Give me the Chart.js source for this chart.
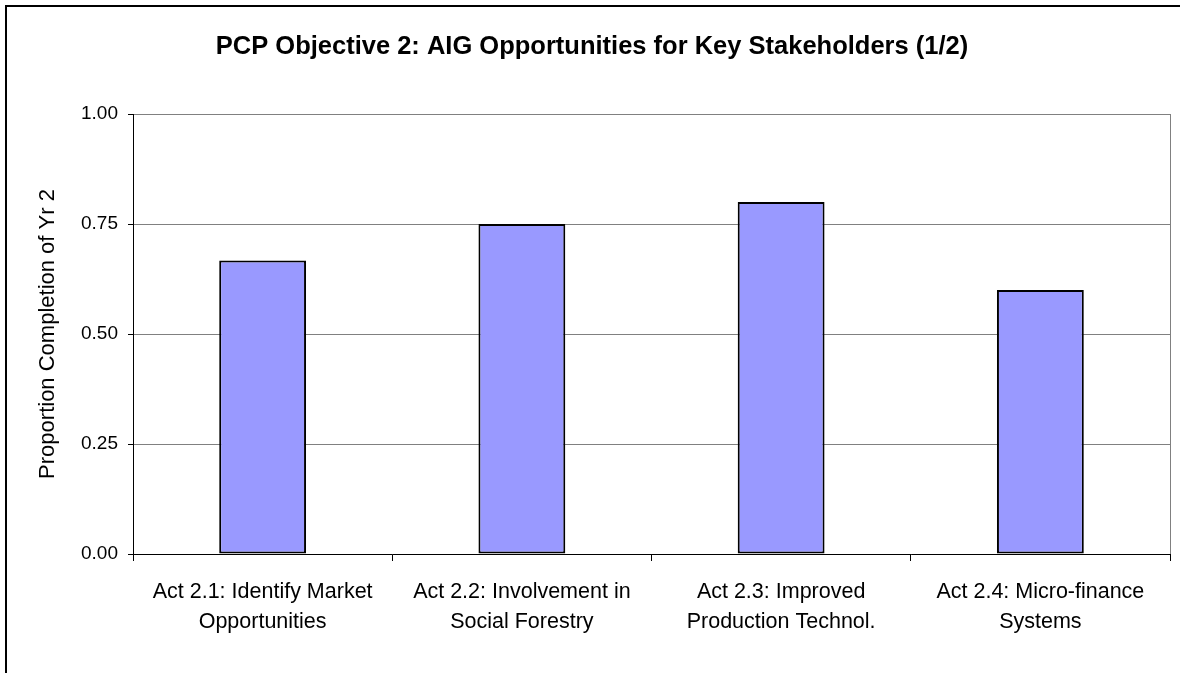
<!DOCTYPE html>
<html>
<head>
<meta charset="utf-8">
<script src="https://cdn.jsdelivr.net/npm/chart.js@4/dist/chart.umd.min.js"></script>
<style>
  html, body { margin: 0; padding: 0; background: #ffffff; }
  #wrap { width: 1184px; height: 673px; position: relative; }
</style>
</head>
<body>
<div id="wrap"><canvas id="c" width="1184" height="673"></canvas></div>
<script>
const chartTitle = "PCP Objective 2: AIG Opportunities for Key Stakeholders (1/2)";
const yAxisTitle = "Proportion Completion of Yr 2";
const categories = [
  ["Act 2.1: Identify Market", "Opportunities"],
  ["Act 2.2: Involvement in", "Social Forestry"],
  ["Act 2.3: Improved", "Production Technol."],
  ["Act 2.4: Micro-finance", "Systems"]
];
const completion = [0.667, 0.75, 0.80, 0.60];
const yMin = 0, yMax = 1, yStep = 0.25;

const framePlugin = {
  id: 'frame',
  afterDraw(chart) {
    const ctx = chart.ctx, a = chart.chartArea;
    ctx.save();
    // plot-area right border (grey)
    ctx.strokeStyle = '#808080';
    ctx.lineWidth = 1;
    ctx.beginPath();
    ctx.moveTo(Math.round(a.right) + 0.5, Math.round(a.top));
    ctx.lineTo(Math.round(a.right) + 0.5, Math.round(a.bottom));
    ctx.stroke();
    // outer chart frame (left and top edges visible)
    ctx.strokeStyle = '#000000';
    ctx.lineWidth = 2;
    ctx.beginPath();
    ctx.moveTo(6, 673);
    ctx.lineTo(6, 6);
    ctx.lineTo(1180, 6);
    ctx.stroke();
    ctx.restore();
  }
};

new Chart(document.getElementById('c'), {
  type: 'bar',
  data: {
    labels: categories,
    datasets: [{
      data: completion,
      backgroundColor: '#9999FF',
      borderColor: '#000000',
      borderWidth: 2,
      borderSkipped: false,
      barPercentage: 0.335,
      categoryPercentage: 1.0
    }]
  },
  options: {
    responsive: false,
    animation: false,
    devicePixelRatio: 1,
    layout: { padding: { left: 14, right: 14, top: 0, bottom: 0 } },
    plugins: {
      legend: { display: false },
      tooltip: { enabled: false },
      title: {
        display: true,
        text: chartTitle,
        color: '#000000',
        font: { family: "'Liberation Sans', Arial, sans-serif", size: 25.5, weight: 'bold', lineHeight: 1.2 },
        padding: { top: 32, bottom: 51.4 }
      }
    },
    scales: {
      x: {
        offset: true,
        grid: {
          offset: true,
          drawOnChartArea: false,
          drawTicks: true,
          tickLength: 7,
          tickColor: '#000000',
          color: '#000000'
        },
        border: { color: '#000000', width: 1 },
        ticks: {
          color: '#000000',
          padding: 16,
          maxRotation: 0,
          autoSkip: false,
          font: { family: "'Liberation Sans', Arial, sans-serif", size: 21.5, lineHeight: '30px' }
        },
        afterFit(scale) { scale.height = 119; }
      },
      y: {
        min: yMin,
        max: yMax,
        grid: {
          color: '#808080',
          lineWidth: 1,
          drawTicks: true,
          tickLength: 5,
          tickColor: '#000000'
        },
        border: { color: '#000000', width: 1 },
        ticks: {
          stepSize: yStep,
          color: '#000000',
          padding: 10,
          font: { family: "'Liberation Sans', Arial, sans-serif", size: 19 },
          callback: (v) => Number(v).toFixed(2)
        },
        title: {
          display: true,
          text: yAxisTitle,
          color: '#000000',
          font: { family: "'Liberation Sans', Arial, sans-serif", size: 22, lineHeight: 1.2 },
          padding: { top: 21, bottom: 0 }
        },
        afterFit(scale) { scale.width = 119; }
      }
    }
  },
  plugins: [framePlugin]
});
</script>
</body>
</html>
